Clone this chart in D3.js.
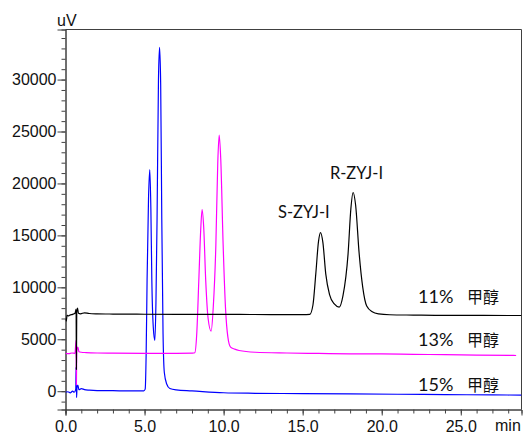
<!DOCTYPE html>
<html><head><meta charset="utf-8">
<script src="https://cdn.jsdelivr.net/npm/d3@7"></script>
<style>
html,body{margin:0;padding:0;background:#fff;}
svg{display:block;}
</style></head>
<body>
<svg id="chart" width="526" height="434"></svg>
<script>
// ---- data: [time (min), signal (uV)] ----
const trace11 = [[0.0,7000],[0.05,6750],[0.1,7300],[0.2,7250],[0.3,7350],[0.45,7400],[0.6,7500],[0.67,7900],[0.69,2100],[0.71,7600],[0.76,8000],[0.82,7500],[0.95,7450],[1.2,7550],[1.5,7480],[2,7450],[3,7430],[4,7420],[5,7410],[7,7400],[9,7400],[11,7390],[13,7380],[15,7370],[15.45,7400],[15.65,8300],[15.83,11300],[16.0,14400],[16.13,15270],[16.28,14300],[16.46,11300],[16.7,9300],[17.0,8400],[17.31,8100],[17.55,9200],[17.87,13200],[18.05,17600],[18.19,19130],[18.35,17900],[18.57,13300],[18.8,10000],[19.05,8200],[19.4,7650],[19.8,7450],[20.5,7360],[22,7330],[24,7300],[26,7300],[28,7290],[28.84,7290]];
const trace13 = [[0.0,3650],[0.2,3620],[0.4,3680],[0.6,3650],[0.67,4900],[0.69,600],[0.71,3800],[0.78,4250],[0.85,3800],[1.0,3750],[1.3,3720],[2,3680],[3,3660],[5,3650],[7,3650],[8.05,3660],[8.18,3700],[8.3,5500],[8.43,10600],[8.55,15500],[8.64,17490],[8.74,15800],[8.87,10600],[9.02,7000],[9.21,5780],[9.35,8200],[9.51,14100],[9.63,22000],[9.72,24650],[9.82,22300],[9.97,14100],[10.12,8000],[10.27,5200],[10.44,4240],[10.7,4050],[10.98,3920],[12,3750],[14,3680],[16,3640],[18,3600],[20,3590],[22,3550],[24,3520],[26,3480],[28.5,3440]];
const trace15 = [[0.0,-100],[0.15,-50],[0.3,-150],[0.45,0],[0.55,-100],[0.65,200],[0.67,2300],[0.70,-600],[0.73,400],[0.78,600],[0.85,150],[1.0,250],[1.2,150],[1.5,100],[2,60],[3,50],[4,30],[4.95,30],[5.04,200],[5.1,3500],[5.16,10700],[5.25,18500],[5.33,21340],[5.4,17500],[5.46,10700],[5.55,6200],[5.65,4890],[5.72,8500],[5.79,16500],[5.88,30000],[5.95,33100],[6.02,29500],[6.09,16500],[6.17,5500],[6.25,1800],[6.4,700],[6.6,260],[7,120],[8,30],[10,-150],[12,-200],[15,-230],[18,-260],[21,-290],[24,-320],[27,-360],[28.84,-370]];

const seriesNames = ["15% 甲醇","13% 甲醇","11% 甲醇"];
const seriesColors = ["#0000ff","#ff00ff","#000000"];
const peakLabels = ["S-ZYJ-I","R-ZYJ-I"];
const peakTimes = [16.13,18.19];
const peakValues = [15270,19130];

const yMajorTicks = [0,5000,10000,15000,20000,25000,30000];
const yMinorTicks = d3.range(-1000,34001,1000);
const xMajorTicks = [0,5,10,15,20,25];
const xMinorTicks = d3.range(0,29,1);
const xDomain = [0,28.84];
const yDomain = [-1760,34820];

// ---- layout ----
const L=65.5, R=521.5, T=29.5, B=409.5;
const svg = d3.select("#chart");
const x = d3.scaleLinear().domain(xDomain).range([L,R]);
const y = d3.scaleLinear().domain(yDomain).range([B,T]);

const axisColor = "#404040";
const tickFont = "'Liberation Sans', Arial, sans-serif";
const annoFont = "Lato, 'Noto Sans CJK SC', sans-serif";

// frame (top/right)
svg.append("path")
  .attr("d",`M${L},${T}H${R}V${B}`)
  .attr("fill","none").attr("stroke",axisColor).attr("stroke-width",1);

// y axis minor
const gyMinor = svg.append("g").attr("transform",`translate(${L},0)`)
  .call(d3.axisLeft(y).tickValues(yMinorTicks).tickSize(4).tickFormat(""));
// y axis major
const gy = svg.append("g").attr("transform",`translate(${L},0)`)
  .call(d3.axisLeft(y).tickValues(yMajorTicks).tickSize(8).tickPadding(1).tickFormat(d3.format("d")));
// x axis minor
const gxMinor = svg.append("g").attr("transform",`translate(0,${B})`)
  .call(d3.axisBottom(x).tickValues(xMinorTicks).tickSize(4).tickFormat(""));
const gx = svg.append("g").attr("transform",`translate(0,${B})`)
  .call(d3.axisBottom(x).tickValues(xMajorTicks).tickSize(6).tickFormat(d3.format(".1f")));

[gyMinor,gy,gxMinor,gx].forEach(g=>{
  g.selectAll("path.domain").attr("stroke",axisColor);
  g.selectAll(".tick line").attr("stroke",axisColor);
});
gy.selectAll(".tick text").attr("font-family",tickFont).attr("font-size",16).attr("fill","#111");
gx.selectAll(".tick text").attr("font-family",tickFont).attr("font-size",16).attr("fill","#111")
  .attr("y",22).attr("dy",0);

// axis unit labels
svg.append("text").attr("x",57).attr("y",26).attr("font-family",tickFont).attr("font-size",16).attr("fill","#111").text("uV");
svg.append("text").attr("x",495).attr("y",431).attr("font-family",tickFont).attr("font-size",16).attr("fill","#111").text("min");

// traces
const line = d3.line().x(d=>x(d[0])).y(d=>y(d[1])).curve(d3.curveMonotoneX);
const clip = svg.append("clipPath").attr("id","clip").append("rect")
  .attr("x",L).attr("y",T).attr("width",R-L).attr("height",B-T);
const traces = [trace15,trace13,trace11];
traces.forEach((tr,i)=>{
  svg.append("path").datum(tr)
    .attr("clip-path","url(#clip)")
    .attr("d",line).attr("fill","none")
    .attr("stroke",seriesColors[i]).attr("stroke-width",1.2)
    .attr("stroke-linejoin","round");
});

// series labels
const labelPos = [[418,391],[418,345.5],[418,303]];
seriesNames.forEach((name,i)=>{
  const parts = name.split(" ");
  const t = svg.append("text").attr("x",labelPos[i][0]).attr("y",labelPos[i][1])
    .attr("font-family",annoFont).attr("font-size",18).attr("fill","#111");
  t.append("tspan").text(parts[0]);
  t.append("tspan").attr("x",467).attr("font-size",16)
    .attr("font-family","'Noto Sans CJK SC', sans-serif").text(parts[1]);
});

// peak labels
const peakLabelPos = [[278,218],[330,179]];
peakLabels.forEach((lab,i)=>{
  svg.append("text").attr("x",peakLabelPos[i][0]).attr("y",peakLabelPos[i][1])
    .attr("font-family",annoFont).attr("font-size",16.5).attr("fill","#111").text(lab);
});
</script>
</body></html>
